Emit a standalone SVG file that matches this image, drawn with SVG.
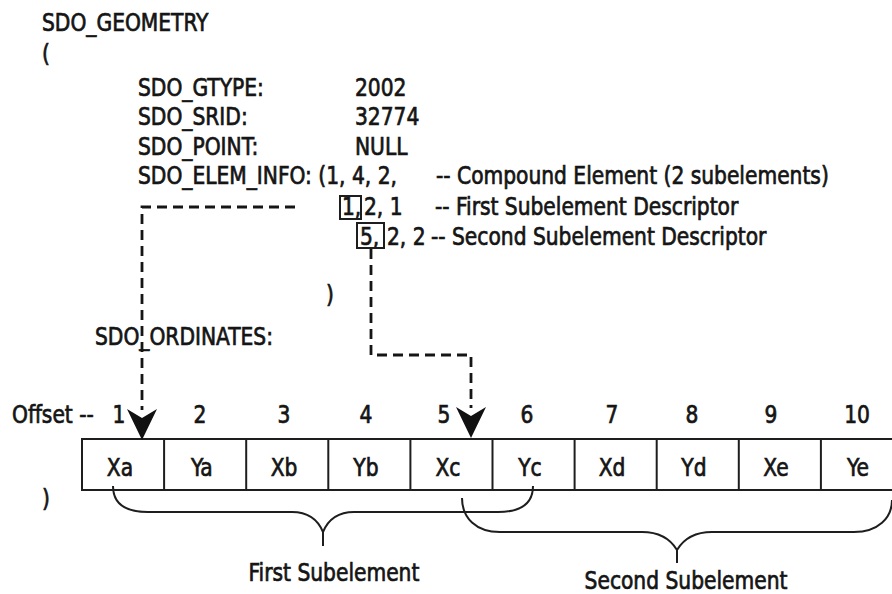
<svg xmlns="http://www.w3.org/2000/svg" width="892" height="594" viewBox="0 0 892 594">
<style>
text{font-family:"DejaVu Sans Condensed","DejaVu Sans",sans-serif;font-size:25px;fill:#151515;stroke:#151515;stroke-width:0.7;transform-box:fill-box;transform-origin:0 0;transform:scaleX(.9)}
text.m{text-anchor:middle;transform-origin:50% 0}
.ln{fill:none;stroke:#1e1e1e;stroke-width:2}
.dash{fill:none;stroke:#151515;stroke-width:2.8;stroke-dasharray:10 6}
.ah{fill:#111;stroke:none}
</style>
<rect width="892" height="594" fill="#fff"/>
<g id="geometry-text">
<text x="42" y="31">SDO_GEOMETRY</text>
<text x="42" y="62">(</text>
<text x="138" y="96">SDO_GTYPE:</text>
<text x="355" y="96">2002</text>
<text x="138" y="125">SDO_SRID:</text>
<text x="355" y="125">32774</text>
<text x="138" y="155">SDO_POINT:</text>
<text x="355" y="155">NULL</text>
<text x="138" y="184">SDO_ELEM_INFO: (1, 4, 2,</text>
<text x="436" y="184">-- Compound Element (2 subelements)</text>
<text x="342" y="215">1,</text>
<text x="364" y="215">2, 1</text>
<text x="435" y="215">-- First Subelement Descriptor</text>
<text x="360" y="245">5,</text>
<text x="387" y="245">2, 2</text>
<text x="431" y="245">-- Second Subelement Descriptor</text>
<text x="326" y="303">)</text>
<text x="95" y="345">SDO_ORDINATES:</text>
<text x="42" y="507">)</text>
</g>
<g id="descriptor-boxes">
<rect class="ln" x="340" y="196" width="21" height="23"/>
<rect class="ln" x="357" y="223" width="27" height="25"/>
</g>
<g id="offsets">
<text x="12" y="423">Offset --</text>
<text class="m" x="119" y="423">1</text>
<text class="m" x="200" y="423">2</text>
<text class="m" x="284" y="423">3</text>
<text class="m" x="366" y="423">4</text>
<text class="m" x="444" y="423">5</text>
<text class="m" x="527" y="423">6</text>
<text class="m" x="612" y="423">7</text>
<text class="m" x="692" y="423">8</text>
<text class="m" x="771" y="423">9</text>
<text class="m" x="857" y="423">10</text>
</g>
<g id="ordinates-array">
<path class="ln" d="M900,439 H82 V490 H900 M164.1,439 V490 M246.2,439 V490 M328.3,439 V490 M410.4,439 V490 M492.5,439 V490 M574.6,439 V490 M656.7,439 V490 M738.8,439 V490 M820.9,439 V490"/>
<text class="m" x="120" y="476">Xa</text>
<text class="m" x="202" y="476">Ya</text>
<text class="m" x="284" y="476">Xb</text>
<text class="m" x="366" y="476">Yb</text>
<text class="m" x="448" y="476">Xc</text>
<text class="m" x="530" y="476">Yc</text>
<text class="m" x="612" y="476">Xd</text>
<text class="m" x="694" y="476">Yd</text>
<text class="m" x="776" y="476">Xe</text>
<text class="m" x="858" y="476">Ye</text>
</g>
<g id="first-subelement">
<path class="ln" d="M113,486 C113,503 125,512 148,512 L292,512 C308,512 318,520 323,532 C328,520 338,512 354,512 L498,512 C521,512 533,503 533,486 M323,530 V546"/>
<text class="m" x="334" y="581">First Subelement</text>
</g>
<g id="second-subelement">
<path class="ln" d="M462,498 C462,518 476,532 500,532 L642,532 C660,532 671,540 677,550 C683,540 694,532 712,532 L854,532 C878,532 892,518 892,500 M677,548 V563"/>
<text class="m" x="686" y="589">Second Subelement</text>
</g>
<g id="connectors">
<path class="dash" d="M295,207 H142 V410"/>
<polygon class="ah" points="127,409 142,418 157,409 142,440"/>
<path class="dash" d="M371,249 V355 H471 V408"/>
<polygon class="ah" points="456,407 471,416 486,407 471,438"/>
</g>
</svg>
